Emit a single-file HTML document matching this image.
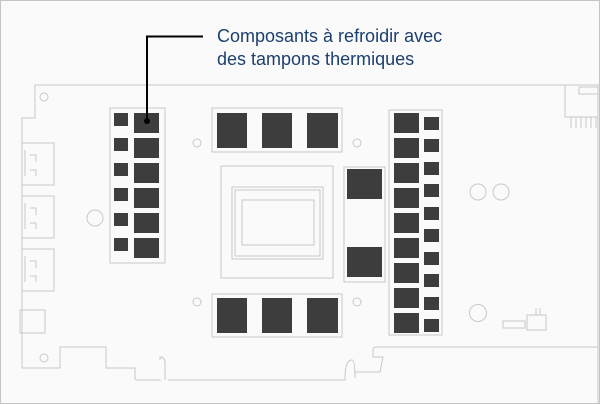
<!DOCTYPE html>
<html><head><meta charset="utf-8"><style>
html,body{margin:0;padding:0;background:#fff}
svg{display:block}
</style></head><body>
<svg width="600" height="404" viewBox="0 0 600 404" xmlns="http://www.w3.org/2000/svg">
<rect x="0.5" y="0.5" width="599" height="403" fill="#fafafa" stroke="#c4c4c4"/>
<g fill="none" stroke="#c8c8c8" stroke-width="1">
<path d="M598,85 H35 V118 H22 V368 H60 V347 H106 V368 H135 V378 Q135,380 137,380 H160 V381 M165,380 V363 Q165,357 160,357 V360 M168,380 H345 V378 Q345,360 352,360 Q355,360 355,378 V372 H380 L383,357 H373 V350 Q373,347 376,347 H598"/>
<path d="M598,85 V404"/>
<rect x="110" y="108" width="55" height="155" fill="#fafafa"/>
<rect x="212" y="108" width="130" height="44"/>
<rect x="212" y="294" width="130" height="43"/>
<rect x="221" y="166" width="112" height="112"/>
<rect x="232" y="187" width="91" height="72"/>
<rect x="235" y="190" width="85" height="66"/>
<rect x="242" y="200" width="72" height="45"/>
<rect x="344" y="167" width="41" height="115"/>
<rect x="389" y="110" width="53" height="225"/>
<rect x="565" y="85" width="33" height="32"/>
<rect x="579" y="87" width="19" height="7"/>
<path d="M571,117 V128 M576,117 V128 M581,117 V128 M586,117 V128 M591,117 V128 M596,117 V128"/>
<circle cx="44" cy="97" r="4"/><circle cx="197" cy="143" r="4"/><circle cx="95" cy="218" r="8"/>
<circle cx="44" cy="358" r="4"/><circle cx="197" cy="302" r="4"/><circle cx="357" cy="143" r="4"/>
<circle cx="357" cy="302" r="4"/><circle cx="478" cy="192" r="8"/><circle cx="501" cy="192" r="8"/>
<circle cx="478" cy="313" r="8.5"/>
<rect x="503" y="321" width="22" height="7"/>
<rect x="527" y="315" width="19" height="15"/>
<path d="M536,308 V315 M540,308 V315"/>
<rect x="22" y="143" width="32" height="42"/><rect x="22" y="196" width="32" height="42"/><rect x="22" y="249" width="32" height="42"/>
<rect x="20" y="310" width="25" height="23"/>
<path d="M25,150 V176 M25,203 V229 M25,256 V282 M30,155 H36 V162 M30,170 H36 V176 M30,208 H36 V215 M30,223 H36 V229 M30,261 H36 V268 M30,276 H36 V282"/>
</g>
<g fill="#3d3d3d">
<rect x="114" y="113" width="14" height="13"/><rect x="114" y="138" width="14" height="13"/><rect x="114" y="163" width="14" height="13"/>
<rect x="114" y="188" width="14" height="13"/><rect x="114" y="213" width="14" height="13"/><rect x="114" y="238" width="14" height="13"/>
<rect x="134" y="113" width="25" height="20"/><rect x="134" y="138" width="25" height="20"/><rect x="134" y="163" width="25" height="20"/>
<rect x="134" y="188" width="25" height="20"/><rect x="134" y="213" width="25" height="20"/><rect x="134" y="238" width="25" height="20"/>
<rect x="217" y="113" width="30" height="35"/><rect x="262" y="113" width="30" height="35"/><rect x="307" y="113" width="31" height="35"/>
<rect x="217" y="298" width="30" height="35"/><rect x="262" y="298" width="30" height="35"/><rect x="307" y="298" width="31" height="35"/>
<rect x="347" y="169" width="35" height="30"/><rect x="347" y="247" width="35" height="30"/>
<rect x="394" y="113" width="25" height="20"/><rect x="394" y="138" width="25" height="20"/><rect x="394" y="163" width="25" height="20"/>
<rect x="394" y="188" width="25" height="20"/><rect x="394" y="213" width="25" height="20"/><rect x="394" y="238" width="25" height="20"/>
<rect x="394" y="263" width="25" height="20"/><rect x="394" y="288" width="25" height="20"/><rect x="394" y="313" width="25" height="20"/>
<rect x="424" y="117" width="15" height="13"/><rect x="424" y="139" width="15" height="13"/><rect x="424" y="162" width="15" height="13"/>
<rect x="424" y="184" width="15" height="13"/><rect x="424" y="207" width="15" height="13"/><rect x="424" y="229" width="15" height="13"/>
<rect x="424" y="252" width="15" height="13"/><rect x="424" y="274" width="15" height="13"/><rect x="424" y="297" width="15" height="13"/>
<rect x="424" y="319" width="15" height="13"/>
</g>
<path d="M147,121 V36.5 H203" fill="none" stroke="#000" stroke-width="2"/>
<circle cx="147" cy="121" r="3" fill="#000"/>
<g font-family="'Liberation Sans',sans-serif" font-size="18" fill="#1c3f6e">
<text x="217" y="42">Composants à refroidir avec</text>
<text x="217" y="65">des tampons thermiques</text>
</g>
</svg>
</body></html>
